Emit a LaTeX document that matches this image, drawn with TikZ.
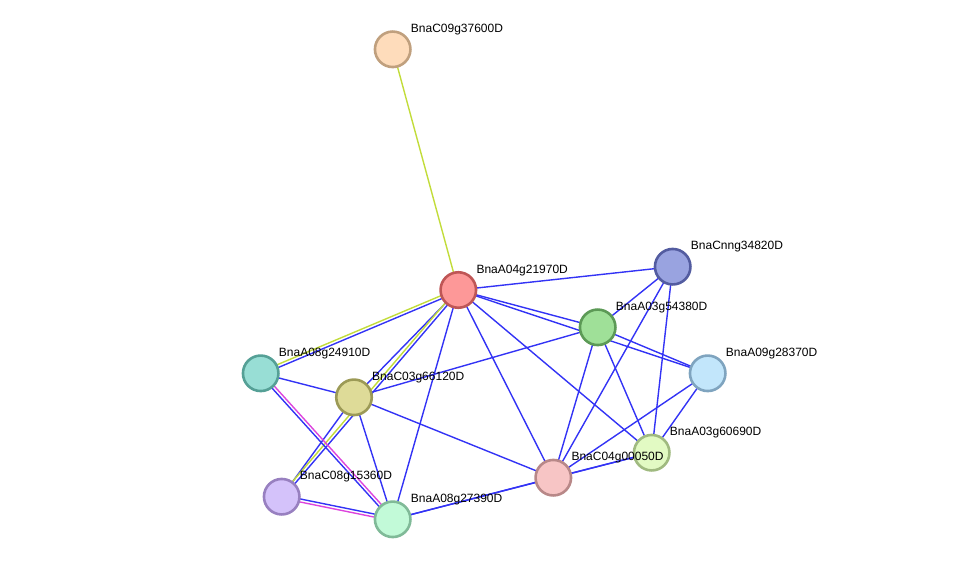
\documentclass[tikz,border=0pt]{standalone}
\usepackage{fontspec}
\setmainfont{Liberation Sans}
\usetikzlibrary{calc}
\pgfdeclarelayer{bg}
\pgfsetlayers{bg,main}
\definecolor{eblue}{HTML}{3333F5}
\definecolor{eyel}{HTML}{C2DC3A}
\definecolor{emag}{HTML}{DD44DD}
\definecolor{bc09}{HTML}{C0A07E}\definecolor{fc09}{HTML}{FEDCBB}
\definecolor{ba04}{HTML}{BF5656}\definecolor{fa04}{HTML}{FD9898}
\definecolor{bcnn}{HTML}{535CA0}\definecolor{fcnn}{HTML}{99A3E0}
\definecolor{ba03b}{HTML}{5C9A56}\definecolor{fa03b}{HTML}{9FE098}
\definecolor{ba09}{HTML}{7FA4BF}\definecolor{fa09}{HTML}{C2E6FB}
\definecolor{ba08a}{HTML}{55A096}\definecolor{fa08a}{HTML}{98DED5}
\definecolor{bc03}{HTML}{9C9A56}\definecolor{fc03}{HTML}{DEDB98}
\definecolor{ba03c}{HTML}{A0BA80}\definecolor{fa03c}{HTML}{E2FAC3}
\definecolor{bc04}{HTML}{B88888}\definecolor{fc04}{HTML}{F7C5C5}
\definecolor{bc08}{HTML}{9880C0}\definecolor{fc08}{HTML}{D4C2FA}
\definecolor{ba08b}{HTML}{80BA98}\definecolor{fa08b}{HTML}{C2FAD8}
\tikzset{
  prot/.style={circle,minimum size=35.5pt,inner sep=0pt,line width=2.6pt,draw=b#1,fill=f#1},
  lbl/.style={anchor=base west,inner sep=0pt,font=\fontsize{12}{14}\selectfont},
  ed/.style={line width=1.4pt,draw=eblue},
  edy/.style={line width=1.4pt,draw=eyel},
  edm/.style={line width=1.4pt,draw=emag},
}
\newcommand{\pairedge}[4]{%
  \draw[#3] ($(#1)!1.5pt!90:(#2)$) -- ($(#2)!1.5pt!-90:(#1)$);
  \draw[#4] ($(#1)!1.5pt!-90:(#2)$) -- ($(#2)!1.5pt!90:(#1)$);}
\begin{document}
\begin{tikzpicture}[x=1pt,y=-1pt]
\useasboundingbox (0,0) rectangle (976,565);
\node[prot=c09] (c09) at (392.7,49.3) {};
\node[prot=a04] (a04) at (458.3,290) {};
\node[prot=cnn] (cnn) at (672.7,266.7) {};
\node[prot=a03b] (a03b) at (597.7,327.3) {};
\node[prot=a09] (a09) at (707.7,373.3) {};
\node[prot=a08a] (a08a) at (260.7,373.3) {};
\node[prot=c03] (c03) at (354,397.3) {};
\node[prot=a03c] (a03c) at (651.7,452.7) {};
\node[prot=c04] (c04) at (553.3,477.7) {};
\node[prot=c08] (c08) at (281.7,496.7) {};
\node[prot=a08b] (a08b) at (392.7,519.3) {};
\node[lbl] (lc09) at ($(c09)+(18,-17)$) {BnaC09g37600D};
\node[lbl] (la04) at ($(a04)+(18,-17)$) {BnaA04g21970D};
\node[lbl] (lcnn) at ($(cnn)+(18,-17)$) {BnaCnng34820D};
\node[lbl] (la03b) at ($(a03b)+(18,-17)$) {BnaA03g54380D};
\node[lbl] (la09) at ($(a09)+(18,-17)$) {BnaA09g28370D};
\node[lbl] (la08a) at ($(a08a)+(18,-17)$) {BnaA08g24910D};
\node[lbl] (lc03) at ($(c03)+(18,-17)$) {BnaC03g66120D};
\node[lbl] (la03c) at ($(a03c)+(18,-17)$) {BnaA03g60690D};
\node[lbl] (lc04) at ($(c04)+(18,-17)$) {BnaC04g00050D};
\node[lbl] (lc08) at ($(c08)+(18,-17)$) {BnaC08g15360D};
\node[lbl] (la08b) at ($(a08b)+(18,-17)$) {BnaA08g27390D};
\begin{pgfonlayer}{bg}
\draw[edy] (c09.center) -- (a04.center);
\foreach \a/\b in {a04/cnn,a04/a03b,a04/a09,a04/c03,a04/a08b,a04/c04,a04/a03c,
  a08a/c03,c03/a03b,c03/c04,c03/a08b,c03/c08,a08b/c04,c04/a03c,a08b/a03c,
  c04/a03b,c04/cnn,c04/a09,a03c/a03b,a03c/cnn,a03c/a09,cnn/a03b,a03b/a09}
  {\draw[ed] (\a.center) -- (\b.center);}
\pairedge{a04.center}{a08a.center}{ed}{edy}
\pairedge{a04.center}{c08.center}{ed}{edy}
\pairedge{a08a.center}{a08b.center}{edm}{ed}
\pairedge{c08.center}{a08b.center}{ed}{edm}
\end{pgfonlayer}
\end{tikzpicture}
\end{document}
